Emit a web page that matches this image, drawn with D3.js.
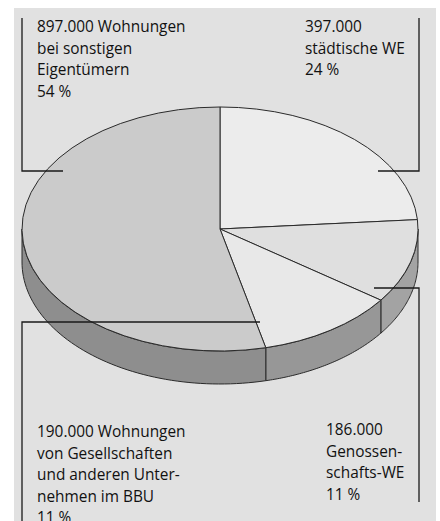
<!DOCTYPE html>
<html>
<head>
<meta charset="utf-8">
<script src="https://cdn.jsdelivr.net/npm/d3@7"></script>
<style>
  body { margin: 0; background: #fff; }
  svg { display: block; }
  .label { font-family: "Open Sans", "Noto Sans", sans-serif; font-size: 15.4px; fill: #111; }
</style>
</head>
<body>
<svg id="chart" width="440" height="521"></svg>
<script>
// Wohnungsbestand, Uhrzeigersinn ab 12 Uhr
const categories = ["städtische WE", "Genossenschafts-WE", "Gesellschaften im BBU", "sonstige Eigentümer"];
const values = [397000, 186000, 190000, 897000];
const percentLabels = ["24 %", "11 %", "11 %", "54 %"];
const labelLines = [
	["städtische WE"],
	["Genossen-", "schafts-WE"],
	["Wohnungen", "von Gesellschaften", "und anderen Unter-", "nehmen im BBU"],
	["Wohnungen", "bei sonstigen", "Eigentümern"]
];

const topColors = ["#ececec", "#dfdfdf", "#e8e8e8", "#cbcbcb"];
const sideColors = ["#a8a8a8", "#a3a3a3", "#979797", "#8e8e8e"];

const W = 440, H = 521;
const cx = 220, cy = 229, rx = 198, ry = 122, depth = 33;

// label boxes: text anchor + leader polyline (screen px)
const layout = [
	{x: 305, y: 32, inline: false, leader: [[378, 171], [419, 171], [419, 18]]},
	{x: 326, y: 435, inline: false, leader: [[374, 288], [419, 288], [419, 502]]},
	{x: 37, y: 437, inline: true, leader: [[260, 322], [22, 322], [22, 530]]},
	{x: 37, y: 32, inline: true, leader: [[63, 171], [22, 171], [22, 18]]}
];
const lineH = 21.6;

const de = d3.formatLocale({decimal: ",", thousands: ".", grouping: [3], currency: ["", " €"]});
const fmt = de.format(",");

const svg = d3.select("#chart");

svg.append("rect")
	.attr("x", 14).attr("y", 8)
	.attr("width", 422).attr("height", H)
	.attr("fill", "#e1e1e1");

const pie = d3.pie().sort(null).value(d => d)(values);

const pt = (a, dy) => [cx + rx * Math.sin(a), cy - ry * Math.cos(a) + dy];
const curve = d3.line();

// side walls (front half only)
const sides = svg.append("g");
pie.forEach((s, i) => {
	const a0 = Math.max(s.startAngle, Math.PI / 2);
	const a1 = Math.min(s.endAngle, Math.PI * 1.5);
	if (a1 <= a0) return;
	const steps = d3.range(0, 61).map(k => a0 + (a1 - a0) * k / 60);
	const pts = steps.map(a => pt(a, 0)).concat(steps.slice().reverse().map(a => pt(a, depth)));
	sides.append("path")
		.attr("d", curve(pts) + "Z")
		.attr("fill", sideColors[i])
		.attr("stroke", "#2a2a2a")
		.attr("stroke-width", 1)
		.attr("stroke-linejoin", "round");
});

// top faces
const arc = d3.arc().innerRadius(0).outerRadius(rx);
svg.append("g")
	.attr("transform", `translate(${cx},${cy}) scale(1,${ry / rx})`)
	.selectAll("path")
	.data(pie)
	.join("path")
	.attr("d", arc)
	.attr("fill", (d, i) => topColors[i])
	.attr("stroke", "#2a2a2a")
	.attr("stroke-width", 1)
	.attr("vector-effect", "non-scaling-stroke")
	.attr("stroke-linejoin", "round");

// leaders
svg.append("g").selectAll("path")
	.data(layout)
	.join("path")
	.attr("d", d => curve(d.leader))
	.attr("fill", "none")
	.attr("stroke", "#1a1a1a")
	.attr("stroke-width", 1.3);

// labels
layout.forEach((L, i) => {
	const num = fmt(values[i]);
	let lines;
	if (L.inline) lines = [num + " " + labelLines[i][0]].concat(labelLines[i].slice(1));
	else lines = [num].concat(labelLines[i]);
	lines.push(percentLabels[i]);
	const t = svg.append("text").attr("class", "label").attr("x", L.x).attr("y", L.y);
	t.selectAll("tspan").data(lines).join("tspan")
		.attr("x", L.x)
		.attr("dy", (d, k) => k ? lineH : 0)
		.text(d => d);
});
</script>
</body>
</html>
